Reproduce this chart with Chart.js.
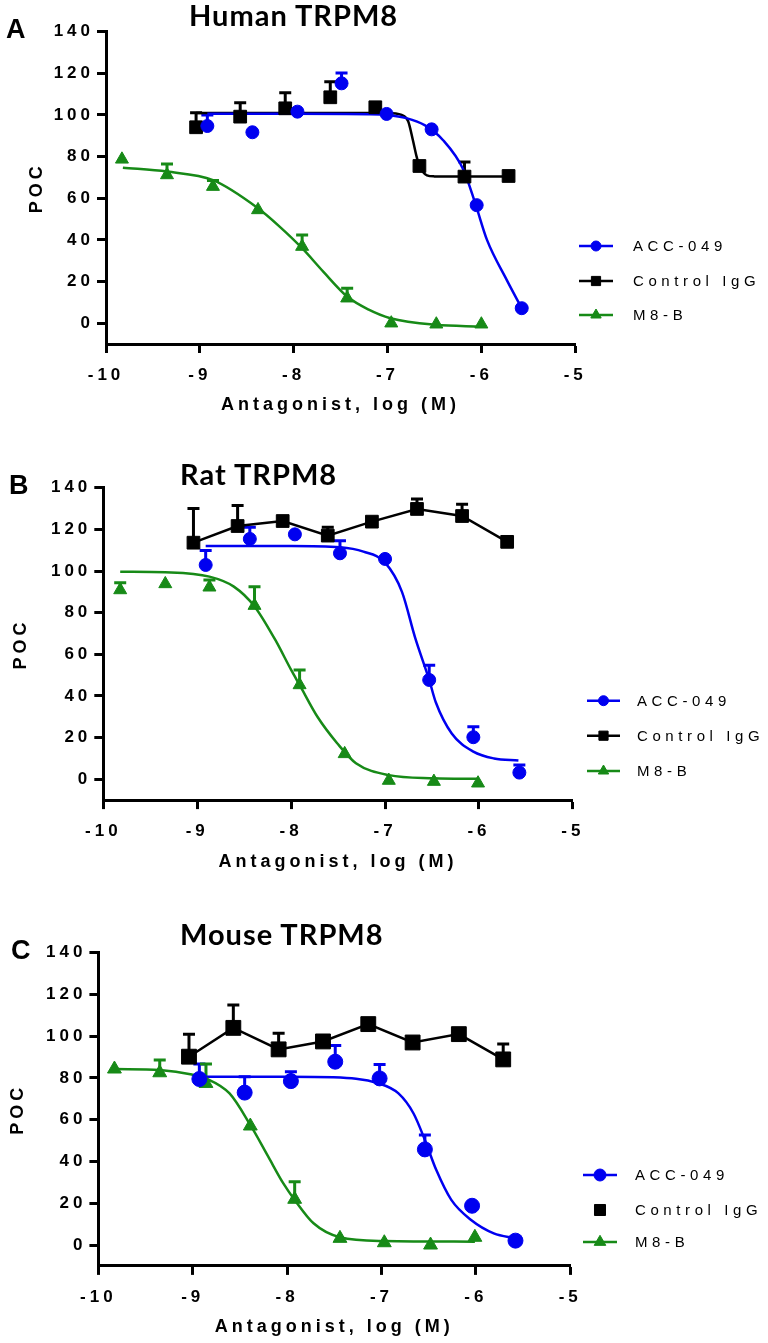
<!DOCTYPE html>
<html>
<head>
<meta charset="utf-8">
<script src="https://cdn.jsdelivr.net/npm/chart.js@4.4.1/dist/chart.umd.min.js"></script>
<style>
  body { margin: 0; background: #fff; width: 768px; height: 1343px; position: relative; overflow: hidden; }
  canvas { position: absolute; left: 0; }
  .ttl { position: absolute; font-family: 'Lato', sans-serif; font-weight: 700; font-size: 29px; line-height: 29px; letter-spacing: 1px; white-space: nowrap; color: #000; }
  .lbl { position: absolute; font-family: Arial, 'Liberation Sans', sans-serif; font-weight: 700; font-size: 27px; line-height: 27px; color: #000; }
</style>
</head>
<body>
<canvas id="chartA" width="768" height="430" style="top:0px"></canvas>
<canvas id="chartB" width="768" height="440" style="top:440px"></canvas>
<canvas id="chartC" width="768" height="463" style="top:880px"></canvas>

<div class="lbl" style="left:6px;top:16px">A</div>
<div class="ttl" style="left:189px;top:0px">Human TRPM8</div>
<div class="lbl" style="left:9px;top:472px">B</div>
<div class="ttl" style="left:180px;top:459px">Rat TRPM8</div>
<div class="lbl" style="left:11px;top:937px">C</div>
<div class="ttl" style="left:180px;top:919px">Mouse TRPM8</div>

<script>
// axis ticks and series names
const xTicks = [-10, -9, -8, -7, -6, -5];
const yTicks = [0, 20, 40, 60, 80, 100, 120, 140];
const seriesLabels = ['ACC-049', 'Control IgG', 'M8-B'];
const xTitle = 'Antagonist, log (M)';
const yTitle = 'POC';

// --- Human TRPM8 ---
const humanAccX = [-8.92, -8.44, -7.96, -7.49, -7.01, -6.53, -6.05, -5.57];
const humanAccY = [94.7, 91.7, 101.6, 115.2, 100.5, 93.1, 56.7, 7.2];
const humanAccErr = [5.3, 0, 0, 5, 0, 0, 0, 0];
const humanAccFitX = [-8.92, -8.0, -7.2, -7.0, -6.8, -6.6, -6.41, -6.19, -6.06, -5.94, -5.73, -5.57];
const humanAccFitY = [100.6, 100.6, 100.4, 100, 98.5, 95, 88, 73.6, 56.8, 40, 20.8, 7.2];

const humanIggX = [-9.04, -8.57, -8.09, -7.61, -7.13, -6.66, -6.18, -5.71];
const humanIggY = [94.1, 99.2, 103.2, 108.5, 103.7, 75.5, 70.4, 70.7];
const humanIggErr = [7, 6.7, 7.5, 7.5, 0, 0, 7, 0];
const humanIggFitX = [-9.04, -7.5, -7.0, -6.85, -6.78, -6.73, -6.69, -6.66, -6.62, -6.58, -6.5, -6.3, -5.71];
const humanIggFitY = [101, 101, 101, 100, 97, 88, 80, 75.5, 72.5, 71, 70.5, 70.4, 70.4];

const humanM8bX = [-9.83, -9.35, -8.86, -8.38, -7.91, -7.43, -6.96, -6.48, -6.0];
const humanM8bY = [78.7, 71.2, 65.6, 54.4, 36.8, 12, 0, -0.5, -0.5];
const humanM8bErr = [0, 5.3, 2.9, 0, 5.6, 4.8, 0, 0, 0];
const humanM8bFitX = [-9.82, -9.35, -8.86, -8.38, -8.15, -7.91, -7.68, -7.43, -7.2, -6.97, -6.49, -6.0];
const humanM8bFitY = [74.7, 72.8, 68.7, 55.2, 46.4, 36, 24.5, 12.8, 6.5, 2.4, -0.8, -1.6];

// --- Rat TRPM8 ---
const ratAccX = [-8.91, -8.44, -7.96, -7.48, -7.0, -6.53, -6.06, -5.57];
const ratAccY = [102.9, 115.4, 117.6, 108.5, 105.8, 47.7, 20.2, 3.2];
const ratAccErr = [7, 5.6, 0, 6, 0, 7, 5, 3.7];
const ratAccFitX = [-8.91, -8.0, -7.48, -7.23, -7.0, -6.82, -6.68, -6.53, -6.46, -6.29, -6.06, -5.84, -5.58];
const ratAccFitY = [112, 112, 111.4, 109.3, 104, 90, 68, 47.7, 37, 22, 13.3, 10, 9];

const ratIggX = [-9.04, -8.57, -8.09, -7.61, -7.14, -6.66, -6.18, -5.7];
const ratIggY = [113.6, 121.6, 124, 117, 123.7, 129.8, 126.4, 114];
const ratIggErr = [16.4, 9.8, 0, 4, 0, 4.8, 5.6, 0];

const ratM8bX = [-9.82, -9.34, -8.87, -8.39, -7.91, -7.43, -6.96, -6.48, -6.01];
const ratM8bY = [90.9, 93.8, 92.2, 83.4, 45.3, 12.2, -0.6, -1.1, -1.9];
const ratM8bErr = [3.5, 0, 3.5, 9.1, 7.2, 0, 0, 0, 0];
const ratM8bFitX = [-9.82, -9.34, -8.87, -8.61, -8.39, -8.17, -8.0, -7.91, -7.72, -7.51, -7.31, -6.96, -6.48, -6.01];
const ratM8bFitY = [99.7, 99.4, 97.3, 92.5, 83, 67, 52.5, 45.3, 30, 17.3, 7.7, 2, 0.5, 0.2];

// --- Mouse TRPM8 ---
const mouseAccX = [-8.93, -8.45, -7.96, -7.49, -7.02, -6.54, -6.04, -5.58];
const mouseAccY = [79.5, 73, 78.5, 87.8, 79.8, 45.8, 18.8, 2.1];
const mouseAccErr = [7.2, 7.6, 4.5, 7.7, 6.7, 6.9, 0, 0];
const mouseAccFitX = [-8.93, -8.0, -7.51, -7.03, -6.82, -6.66, -6.54, -6.42, -6.26, -6.05, -5.81, -5.58];
const mouseAccFitY = [80.6, 80.6, 80.3, 77.4, 72.6, 63, 50.3, 36, 21.6, 12, 5.6, 3.2];

const mouseIggX = [-9.04, -8.57, -8.09, -7.62, -7.14, -6.67, -6.18, -5.71];
const mouseIggY = [90.2, 104, 93.7, 97.5, 105.8, 97, 101, 88.9];
const mouseIggErr = [10.8, 11, 7.7, 0, 0, 0, 0, 7.4];

const mouseM8bX = [-9.83, -9.35, -8.86, -8.39, -7.92, -7.44, -6.97, -6.48, -6.01];
const mouseM8bY = [84.3, 82.5, 77.4, 57, 21.9, 3.2, 1.1, 0, 3.7];
const mouseM8bErr = [0, 6.1, 9.3, 0, 8.4, 0, 0, 0, 0];
const mouseM8bFitX = [-9.83, -9.35, -9.01, -8.86, -8.61, -8.39, -8.2, -8.04, -7.92, -7.72, -7.44, -6.97, -6.01];
const mouseM8bFitY = [84.3, 83.8, 81.7, 79.8, 72.6, 57.5, 42.3, 29.5, 21.6, 10.4, 3.7, 1.9, 1.6];

const BLUE = '#0000f0';
const BLACK = '#000000';
const GREEN = '#178a17';

const pts = (xs, ys) => xs.map((x, i) => ({ x: x, y: ys[i] }));

// error bars: one-sided T caps above the mean
const errorBars = {
  id: 'errorBars',
  beforeDatasetsDraw(chart) {
    const { ctx, scales: { x, y } } = chart;
    chart.data.datasets.forEach(ds => {
      if (!ds.errs) return;
      ctx.save();
      ctx.strokeStyle = ds.borderColor;
      ctx.lineWidth = 3;
      ds.data.forEach((p, i) => {
        const e = ds.errs[i];
        if (!e) return;
        const px = x.getPixelForValue(p.x);
        const py = y.getPixelForValue(p.y);
        const pt = y.getPixelForValue(p.y + e);
        ctx.beginPath();
        ctx.moveTo(px, py);
        ctx.lineTo(px, pt);
        ctx.moveTo(px - 6, pt);
        ctx.lineTo(px + 6, pt);
        ctx.stroke();
      });
      ctx.restore();
    });
  }
};

const spacing = {
  id: 'spacing',
  beforeDraw(chart) { chart.ctx.letterSpacing = '4px'; }
};

// legend: line + marker, spaced text
const keyLegend = {
  id: 'keyLegend',
  afterDraw(chart) {
    const o = chart.options.plugins.keyLegend;
    const ctx = chart.ctx;
    ctx.save();
    o.items.forEach((it, i) => {
      const yy = o.rows[i];
      ctx.strokeStyle = it.color;
      ctx.fillStyle = it.color;
      if (it.line) {
        ctx.lineWidth = 2.5;
        ctx.beginPath();
        ctx.moveTo(o.lineX[0], yy);
        ctx.lineTo(o.lineX[1], yy);
        ctx.stroke();
      }
      ctx.lineWidth = 1;
      Chart.helpers.drawPoint(ctx, { pointStyle: it.style, radius: it.radius, rotation: 0, borderWidth: 1 },
        (o.lineX[0] + o.lineX[1]) / 2, yy);
      ctx.letterSpacing = '4.6px';
      ctx.font = '15px Arial';
      ctx.fillStyle = '#000';
      ctx.textAlign = 'left';
      ctx.textBaseline = 'middle';
      ctx.fillText(it.label, o.textX, yy + 1);
    });
    ctx.restore();
  }
};

const panels = [
  {
    id: 'chartA', height: 430, left: 106, right: 575.2, plotTop: 31.7, plotBottom: 344,
    yTitlePad: 26, xTitlePad: 14,
    legend: { rows: [246, 281, 315], lineX: [579, 613], textX: 633, sizes: [5, 6.5, 6], lines: [true, true, true] },
    marker: [6.5, 9, 7.5],
    series: [
      { x: humanAccX, y: humanAccY, err: humanAccErr, fx: humanAccFitX, fy: humanAccFitY },
      { x: humanIggX, y: humanIggY, err: humanIggErr, fx: humanIggFitX, fy: humanIggFitY },
      { x: humanM8bX, y: humanM8bY, err: humanM8bErr, fx: humanM8bFitX, fy: humanM8bFitY }
    ]
  },
  {
    id: 'chartB', height: 440, left: 103.3, right: 572.9, plotTop: 47.7, plotBottom: 360.1,
    yTitlePad: 10, xTitlePad: 7.5,
    legend: { rows: [260.7, 295.7, 331], lineX: [587, 620], textX: 637, sizes: [5, 6.5, 6], lines: [true, true, true] },
    marker: [6.5, 9, 7.5],
    series: [
      { x: ratAccX, y: ratAccY, err: ratAccErr, fx: ratAccFitX, fy: ratAccFitY },
      { x: ratIggX, y: ratIggY, err: ratIggErr, connect: true },
      { x: ratM8bX, y: ratM8bY, err: ratM8bErr, fx: ratM8bFitX, fy: ratM8bFitY }
    ]
  },
  {
    id: 'chartC', height: 463, left: 98.4, right: 570.2, plotTop: 72.7, plotBottom: 385.9,
    yTitlePad: 7, xTitlePad: 5.5,
    legend: { rows: [295, 330, 362], lineX: [583, 617], textX: 635, sizes: [6, 7.8, 6.7], lines: [true, false, true] },
    marker: [7.5, 10.5, 8],
    series: [
      { x: mouseAccX, y: mouseAccY, err: mouseAccErr, fx: mouseAccFitX, fy: mouseAccFitY },
      { x: mouseIggX, y: mouseIggY, err: mouseIggErr, connect: true },
      { x: mouseM8bX, y: mouseM8bY, err: mouseM8bErr, fx: mouseM8bFitX, fy: mouseM8bFitY }
    ]
  }
];

const colors = [BLUE, BLACK, GREEN];
const styles = ['circle', 'rect', 'triangle'];
const tickFont = { family: 'Arial', size: 17, weight: 'bold' };
const titleFont = { family: 'Arial', size: 18, weight: 'bold' };

panels.forEach(p => {
  const datasets = [];
  p.series.forEach((s, i) => {
    datasets.push({
      label: seriesLabels[i],
      data: pts(s.x, s.y),
      errs: s.err,
      pointStyle: styles[i],
      pointRadius: p.marker[i],
      pointBorderWidth: 1,
      backgroundColor: colors[i],
      borderColor: colors[i],
      showLine: !!s.connect,
      borderWidth: 2.5,
      tension: 0,
      order: 0,
      clip: false
    });
    if (s.fx) {
      datasets.push({
        label: seriesLabels[i] + ' fit',
        data: pts(s.fx, s.fy),
        showLine: true,
        pointRadius: 0,
        borderColor: colors[i],
        borderWidth: 2.5,
        cubicInterpolationMode: 'monotone',
        order: 1,
        clip: false
      });
    }
  });

  new Chart(document.getElementById(p.id), {
    type: 'scatter',
    data: { datasets: datasets },
    options: {
      responsive: false,
      animation: false,
      events: [],
      layout: { padding: { left: 0, top: p.plotTop, right: 768 - p.right, bottom: 0 } },
      scales: {
        x: {
          type: 'linear', min: -10, max: -5,
          afterBuildTicks: sc => { sc.ticks = xTicks.map(v => ({ value: v })); },
          afterFit: sc => { sc.height = p.height - p.plotBottom; },
          border: { display: true, width: 3, color: '#000' },
          grid: { drawOnChartArea: false, tickLength: 9, tickWidth: 3, tickColor: '#000' },
          ticks: { color: '#000', font: tickFont, padding: 12, maxRotation: 0, autoSkip: false },
          title: { display: true, text: xTitle, color: '#000', font: titleFont, padding: { top: 0, bottom: p.xTitlePad } }
        },
        y: {
          type: 'linear', min: -10, max: 140,
          afterBuildTicks: sc => { sc.ticks = yTicks.map(v => ({ value: v })); },
          afterFit: sc => { sc.width = p.left; },
          border: { display: true, width: 3, color: '#000' },
          grid: { drawOnChartArea: false, tickLength: 9, tickWidth: 3, tickColor: '#000' },
          ticks: { color: '#000', font: tickFont, padding: 3 },
          title: { display: true, text: yTitle, color: '#000', font: titleFont, padding: { top: p.yTitlePad, bottom: 0 } }
        }
      },
      plugins: {
        legend: { display: false },
        tooltip: { enabled: false },
        keyLegend: {
          rows: p.legend.rows, lineX: p.legend.lineX, textX: p.legend.textX,
          items: seriesLabels.map((l, i) => ({ label: l, color: colors[i], style: styles[i], radius: p.legend.sizes[i], line: p.legend.lines[i] }))
        }
      }
    },
    plugins: [spacing, errorBars, keyLegend]
  });
});
</script>
</body>
</html>
